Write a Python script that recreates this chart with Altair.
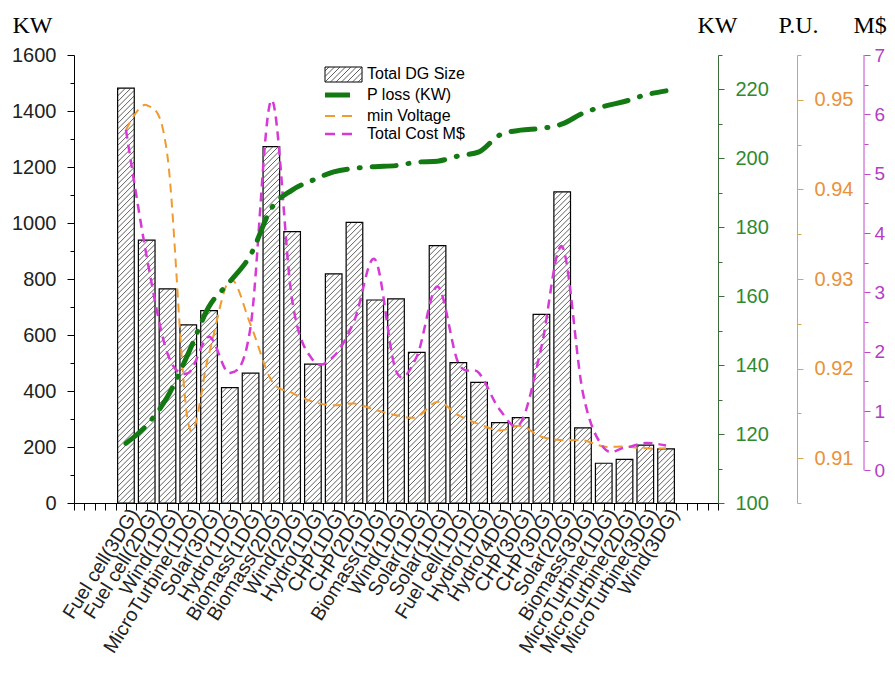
import json
import altair as alt
import pandas as pd

categories = ["Fuel cell(3DG)", "Fuel cell(2DG)", "Wind(1DG)", "MicroTurbine(1DG)", "Solar(3DG)",
              "Hydro(1DG)", "Biomass(1DG)", "Biomass(2DG)", "Wind(2DG)", "Hydro(1DG)", "CHP(1DG)",
              "CHP(2DG)", "Biomass(1DG)", "Wind(1DG)", "Solar(1DG)", "Solar(1DG)", "Fuel cell(1DG)",
              "Hydro(1DG)", "Hydro(4DG)", "CHP(3DG)", "CHP(3DG)", "Solar(2DG)", "Biomass(3DG)",
              "MicroTurbine(1DG)", "MicroTurbine(2DG)", "MicroTurbine(3DG)", "Wind(3DG)"]
dg_size = [1482, 939, 765, 636, 687, 412, 464, 1273, 969, 496, 818, 1002, 725, 729, 538, 919,
           501, 431, 287, 305, 674, 1111, 268, 142, 156, 207, 193]
p_loss = [117.3, 122.6, 130.8, 143.4, 157.0, 164.2, 172.0, 185.5, 190.8, 193.7, 196.1, 197.1,
          197.6, 197.9, 198.9, 199.2, 200.7, 201.9, 206.8, 208.2, 208.7, 210.0, 213.1, 215.1,
          216.5, 218.4, 219.6]
min_voltage = [0.9466, 0.9494, 0.9437, 0.9139, 0.9217, 0.9299, 0.9249, 0.9187, 0.9173, 0.9163,
               0.9159, 0.9161, 0.9154, 0.9148, 0.9146, 0.9163, 0.9148, 0.9138, 0.9131, 0.9136,
               0.9124, 0.9120, 0.9120, 0.9113, 0.9113, 0.9111, 0.9111]
total_cost = [5.74, 3.60, 1.97, 1.64, 2.25, 1.64, 2.42, 6.24, 2.87, 1.86, 1.92, 2.53, 3.55, 1.68,
              1.92, 3.10, 1.81, 1.64, 1.02, 0.80, 2.08, 3.77, 1.30, 0.38, 0.38, 0.46, 0.42]

legend_labels = ["Total DG Size", "P loss (KW)", "min Voltage", "Total Cost M$"]

# ---------- layout constants ----------
W, H = 644, 448
X_DOMAIN = [-1.5, 29.5]
Y_DG = [0, 1600]
Y_LOSS = [100, 230]
Y_VOLT = [0.905, 0.955]
Y_COST = [-0.55, 7]
HALF = 0.4
OFF_VOLT, OFF_COST = 79, 146

GREEN_LINE = "#137a13"
GREEN_AX = "#3b6e3b"
GREEN_LBL = "#2f8a2f"
ORANGE_LINE = "#f09a30"
ORANGE_AX = "#d6a84e"
ORANGE_LBL = "#e8923a"
PURPLE_LINE = "#d63ad6"
PURPLE_AX = "#c444cc"
PURPLE_LBL = "#b43cc4"
TITLE_SIZE = 24

pos = list(range(1, len(categories) + 1))
df = pd.DataFrame({"pos": pos, "cat": categories, "dg": dg_size, "ploss": p_loss,
                   "vmin": min_voltage, "cost": total_cost})

# hatch lines derived from bar values (45 degree, in data units via px ratios)
px_x = W / (X_DOMAIN[1] - X_DOMAIN[0])
px_y = H / (Y_DG[1] - Y_DG[0])
spacing = 5.5
rows = []
for p, v in zip(pos, dg_size):
    xl = p - HALF
    w = 2 * HALF * px_x
    h = v * px_y
    k = -int(w / spacing) - 1
    while k * spacing < h:
        off = k * spacing
        a = max(0.0, -off)
        b = min(w, h - off)
        if b > a:
            rows.append({"hx": xl + a / px_x, "hx2": xl + b / px_x,
                         "hy": (a + off) / px_y, "hy2": (b + off) / px_y})
        k += 1
hatch_df = pd.DataFrame(rows)

xscale = alt.Scale(domain=X_DOMAIN, nice=False, zero=False)
cats_js = json.dumps(categories)
xaxis = alt.Axis(
    values=[X_DOMAIN[0] + 0.5 * i for i in range(63)],
    labelExpr=f"(datum.value >= 1 && datum.value <= 27 && datum.value % 1 == 0) ? {cats_js}[datum.value - 1] : ''",
    labelAngle=302, labelAlign="right", labelBaseline="middle", labelOffset=8, labelPadding=0,
    labelFont="Liberation Sans", labelFontSize=19.5, labelColor="#222222",
    labelOverlap=False, labelFlush=False, labelBound=False,
    tickSize=7, tickColor="black", domainColor="black", grid=False, title=None,
)


def cond(test, a, b):
    return {"condition": {"test": test, "value": a}, "value": b}


def title_props(text, tx):
    return dict(title=text, titleAngle=0, titleX=tx, titleY=-30, titleAlign="left",
                titleBaseline="middle", titleFont="Liberation Serif", titleFontSize=TITLE_SIZE,
                titleFontWeight="normal", titleColor="black")


left_axis = alt.Axis(
    values=list(range(0, 1601, 100)),
    labelExpr="datum.value % 200 == 0 ? format(datum.value, 'd') : ''",
    tickSize=cond("datum.value % 200 == 0", 7, 4),
    labelFont="Liberation Sans", labelFontSize=20, labelColor="#222222", labelPadding=11,
    domainColor="black", tickColor="black", grid=False,
    **title_props("KW", -62),
)

green_axis = alt.Axis(
    orient="right", offset=0, values=list(range(100, 231, 10)),
    labelExpr="datum.value % 20 == 0 ? format(datum.value, 'd') : ''",
    tickSize=cond("datum.value % 20 == 0", 6, 4),
    labelFont="Liberation Sans", labelFontSize=20, labelColor=GREEN_LBL, labelPadding=11,
    domainColor=GREEN_AX, tickColor=GREEN_AX, grid=False,
    **title_props("KW", -21),
)

orange_axis = alt.Axis(
    orient="right", offset=OFF_VOLT, values=[round(0.905 + 0.005 * i, 3) for i in range(11)],
    labelExpr="round(datum.value * 1000) % 10 == 0 ? format(datum.value, '.2f') : ''",
    tickSize=cond("round(datum.value * 1000) % 10 == 0", 6, 4),
    labelFont="Liberation Sans", labelFontSize=20, labelColor=ORANGE_LBL, labelPadding=11,
    domainColor=ORANGE_AX, tickColor=ORANGE_AX, grid=False,
    **title_props("P.U.", -19),
)

purple_axis = alt.Axis(
    orient="right", offset=OFF_COST, values=[0.5 * i for i in range(15)],
    labelExpr="datum.value % 1 == 0 ? format(datum.value, 'd') : ''",
    tickSize=cond("datum.value % 1 == 0", 6, 4),
    labelFont="Liberation Sans", labelFontSize=19, labelColor=PURPLE_LBL, labelPadding=4,
    domain=False, tickColor=PURPLE_AX, grid=False,
    **title_props("M$", -11),
)

X = lambda f: alt.X(f, scale=xscale, axis=xaxis, title=None)

bars = alt.Chart(df).transform_calculate(
    x0=f"datum.pos - {HALF}", x1=f"datum.pos + {HALF}", base="0"
).mark_rect(fill="white", stroke="black", strokeWidth=1.2).encode(
    x=X("x0:Q"), x2="x1:Q",
    y=alt.Y("dg:Q", scale=alt.Scale(domain=Y_DG, nice=False), axis=left_axis),
    y2="base:Q",
)

hatch = alt.Chart(hatch_df).mark_rule(color="#2a2a2a", strokeWidth=0.75).encode(
    x=X("hx:Q"), x2="hx2:Q",
    y=alt.Y("hy:Q", scale=alt.Scale(domain=Y_DG, nice=False), axis=None), y2="hy2:Q",
)

volt = alt.Chart(df).mark_line(color=ORANGE_LINE, strokeWidth=2, strokeDash=[9, 6],
                               interpolate="cardinal").encode(
    x=X("pos:Q"),
    y=alt.Y("vmin:Q", scale=alt.Scale(domain=Y_VOLT, nice=False, zero=False), axis=orange_axis),
)

cost = alt.Chart(df).mark_line(color=PURPLE_LINE, strokeWidth=2.5, strokeDash=[9, 6],
                               interpolate="cardinal").encode(
    x=X("pos:Q"),
    y=alt.Y("cost:Q", scale=alt.Scale(domain=Y_COST, nice=False, zero=False), axis=purple_axis),
)

loss = alt.Chart(df).mark_line(color=GREEN_LINE, strokeWidth=5, strokeDash=[24, 12, 1, 12],
                               strokeCap="round", interpolate="monotone").encode(
    x=X("pos:Q"),
    y=alt.Y("ploss:Q", scale=alt.Scale(domain=Y_LOSS, nice=False, zero=False), axis=green_axis),
)

cost_line = alt.Chart(pd.DataFrame({"lo": [0], "hi": [7]})).mark_rule(
    color=PURPLE_AX, strokeWidth=1).encode(
    x=alt.value(W + OFF_COST),
    y=alt.Y("lo:Q", scale=alt.Scale(domain=Y_COST, nice=False, zero=False), axis=None), y2="hi:Q",
)

# ---------- legend ----------
one = pd.DataFrame({"k": [0]})
LX0, LX1 = 251, 288
rows_y = [19, 40, 61, 79]
sw_top, sw_bot = 12, 27
sw = []
k = -int((LX1 - LX0) / spacing) - 1
while k * spacing < (sw_bot - sw_top):
    off = k * spacing
    a = max(0.0, -off)
    b = min(LX1 - LX0, (sw_bot - sw_top) - off)
    if b > a:
        sw.append({"lx": LX0 + a, "lx2": LX0 + b,
                   "ly": sw_bot - (a + off), "ly2": sw_bot - (b + off)})
    k += 1
sw_df = pd.DataFrame(sw)

leg_box = alt.Chart(one).mark_rect(fill="white", stroke="black", strokeWidth=1).encode(
    x=alt.value(LX0), x2=alt.value(LX1), y=alt.value(sw_top), y2=alt.value(sw_bot))
leg_hatch = alt.Chart(sw_df).mark_rule(color="#2a2a2a", strokeWidth=0.75).encode(
    x=alt.X("lx:Q", scale=None, axis=None), x2="lx2:Q",
    y=alt.Y("ly:Q", scale=None, axis=None), y2="ly2:Q")
leg_loss = alt.Chart(one).mark_rule(color=GREEN_LINE, strokeWidth=5).encode(
    x=alt.value(LX0), x2=alt.value(LX0 + 25), y=alt.value(rows_y[1]))
leg_volt = alt.Chart(one).mark_rule(color=ORANGE_LINE, strokeWidth=2, strokeDash=[10, 7]).encode(
    x=alt.value(LX0), x2=alt.value(LX1 - 10), y=alt.value(rows_y[2]))
leg_cost = alt.Chart(one).mark_rule(color=PURPLE_LINE, strokeWidth=2.5, strokeDash=[10, 7]).encode(
    x=alt.value(LX0), x2=alt.value(LX1 - 10), y=alt.value(rows_y[3]))
leg_text = alt.Chart(pd.DataFrame({"t": legend_labels, "yy": rows_y})).mark_text(
    align="left", baseline="middle", font="Liberation Sans", fontSize=16, color="black").encode(
    x=alt.value(293), y=alt.Y("yy:Q", scale=None, axis=None), text="t:N")

chart = alt.layer(
    bars, hatch, volt, cost, loss, cost_line,
    leg_box, leg_hatch, leg_loss, leg_volt, leg_cost, leg_text,
).resolve_scale(y="independent").properties(
    width=W, height=H,
    autosize=alt.AutoSizeParams(type="none"),
    padding={"left": 66, "top": 47, "right": 169, "bottom": 160},
).configure_view(strokeWidth=0)

chart.save("out.html", embed_options={"renderer": "svg", "actions": False})
